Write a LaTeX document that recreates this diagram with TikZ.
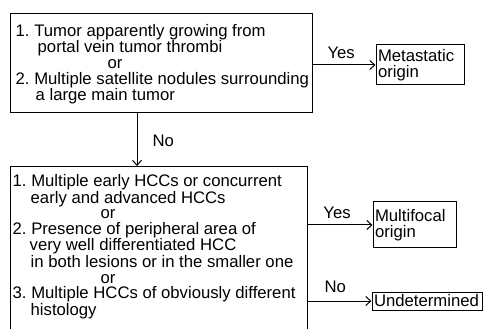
\documentclass[tikz,border=0pt]{standalone}
\usepackage{fontspec}
\setmainfont{Liberation Sans}
\frenchspacing
\usetikzlibrary{positioning,calc,arrows.meta}

\tikzset{
    box/.style={draw, line width=1pt, inner sep=0pt, anchor=north west},
    endbox/.style={draw, line width=1pt, inner xsep=2pt, inner ysep=0pt, align=left},
    crit/.style={inner sep=0pt, align=left, anchor=north west},
    flow/.style={line width=1pt, -{Straight Barb[length=5pt,width=9pt]}},
    lbl/.style={inner sep=0pt}
}

\begin{document}
\begin{tikzpicture}[x=1pt, y=-1pt, font=\fontsize{16.7}{16}\selectfont]
    \clip (0,0) rectangle (483,329);

    % First question
    \node[box, minimum width=302.5pt, minimum height=99pt] (q1) at (9.5,13) {};
    \node[crit] (q1txt) at (15.5,23.8) {1. Tumor apparently growing from\\
        \hspace*{22pt}portal vein tumor thrombi\\
        \hspace*{92pt}or\\
        2. Multiple satellite nodules surrounding\\
        \hspace*{20pt}a large main tumor};

    % Second question (runs off the page)
    \node[box, minimum width=297.5pt, minimum height=200pt] (q2) at (9.5,166) {};
    \node[crit, font=\fontsize{16.7}{15.5}\selectfont] (q2txt) at (12.5,174.5) {1. Multiple early HCCs or concurrent\\
        \hspace*{18pt}early and advanced HCCs\\
        \hspace*{88pt}or\\
        2. Presence of peripheral area of\\
        \hspace*{17pt}very well differentiated HCC\\
        \hspace*{18pt}in both lesions or in the smaller one\\
        \hspace*{88pt}or\\
        3. Multiple HCCs of obviously different\\
        \hspace*{18pt}histology};

    % Outcomes
    \node[endbox, text width=84pt, minimum height=40pt] (meta) at (420,65) {Metastatic\\origin};
    \node[endbox, text width=79pt, minimum height=46pt] (multi) at (414.5,225) {Multifocal\\origin};
    \node[endbox, text width=106pt, minimum height=18pt] (undet) at (427,301) {Undetermined};

    % Connectors
    \coordinate (drop) at (137,0);
    \draw[flow] (q1.east |- meta.west) -- node[lbl, above=6pt, pos=0.45] (yes1) {Yes} (meta.west);
    \draw[flow] (q1.south -| drop) -- node[lbl, right=15pt, pos=0.52] (no1) {No} (q2.north -| drop);
    \draw[flow] (q2.east |- multi.west) -- node[lbl, above=6pt, pos=0.45] (yes2) {Yes} (multi.west);
    \draw[flow] (q2.east |- undet.west) -- node[lbl, above=8pt, pos=0.43] (no2) {No} (undet.west);
\end{tikzpicture}
\end{document}
